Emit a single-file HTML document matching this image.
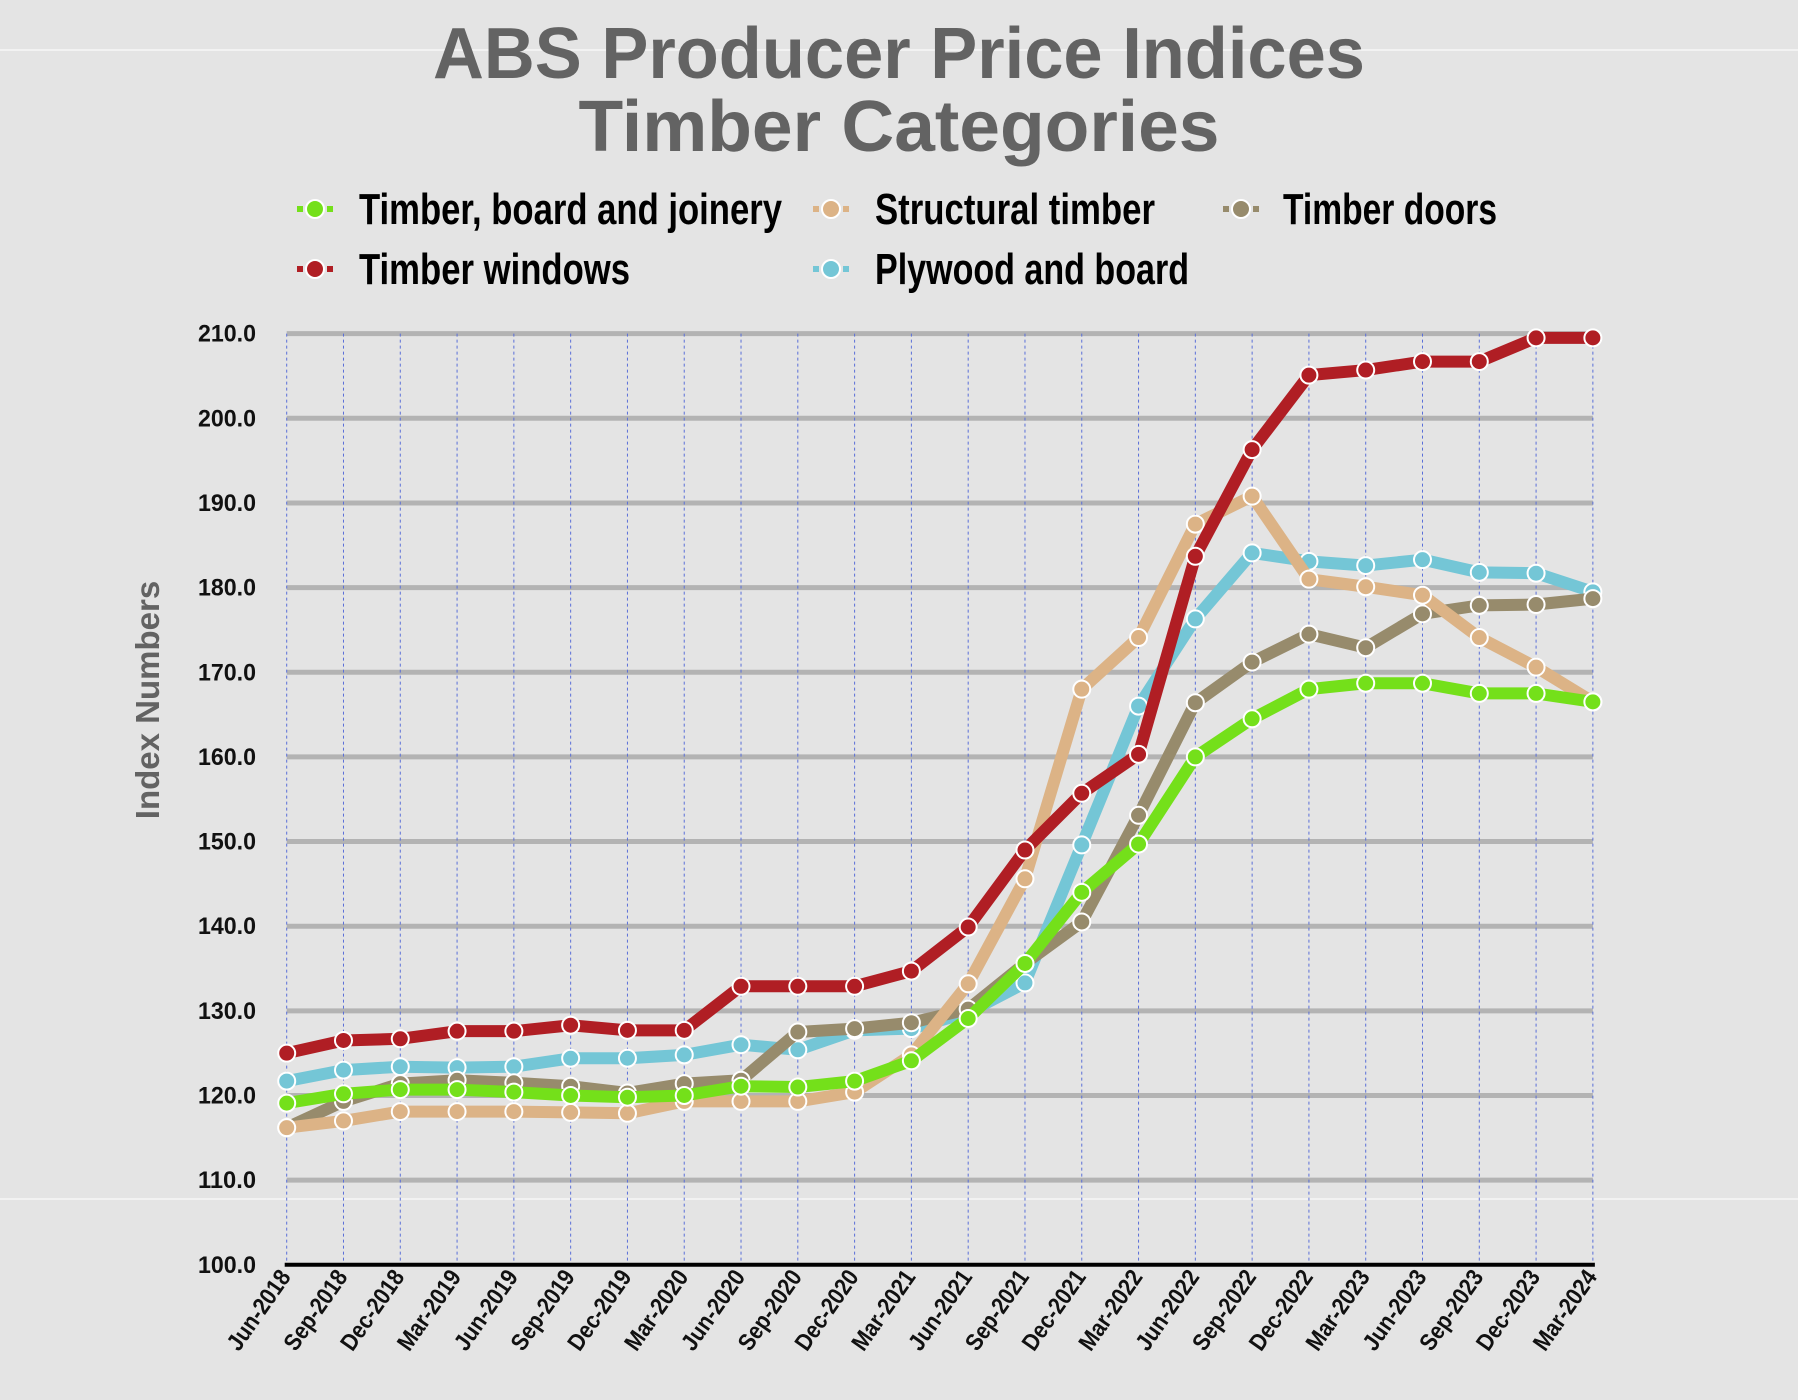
<!DOCTYPE html>
<html><head><meta charset="utf-8"><style>
html,body{margin:0;padding:0;background:#e4e4e4;}
svg{display:block;}
</style></head><body>
<svg id="s" width="1798" height="1400" xmlns="http://www.w3.org/2000/svg" font-family="Liberation Sans, sans-serif">
<rect width="1798" height="1400" fill="#e4e4e4"/>
<line x1="0" y1="50" x2="1798" y2="50" stroke="#f2f2f2" stroke-width="2"/>
<line x1="0" y1="1199" x2="1798" y2="1199" stroke="#f2f2f2" stroke-width="2"/>
<text x="899" y="78" text-anchor="middle" font-size="72" font-weight="bold" fill="#636363" textLength="932" lengthAdjust="spacingAndGlyphs">ABS Producer Price Indices</text>
<text x="899" y="151" text-anchor="middle" font-size="72" font-weight="bold" fill="#636363" textLength="641" lengthAdjust="spacingAndGlyphs">Timber Categories</text>
<g id="g"></g>
</svg>
<script>
var NS="http://www.w3.org/2000/svg",g=document.getElementById('g');
function el(t,a,txt){var e=document.createElementNS(NS,t);for(var k in a)e.setAttribute(k,a[k]);if(txt)e.textContent=txt;g.appendChild(e);return e;}
var x0=286.7,dx=56.79,y100=1264.8,ppu=8.465;
function X(i){return x0+i*dx;} function Y(v){return y100-(v-100)*ppu;}
for(var v=110;v<=210;v+=10){el('line',{x1:x0,x2:X(23),y1:Y(v),y2:Y(v),stroke:'#b3b3b3','stroke-width':5});}
for(var i=0;i<24;i++){el('line',{x1:X(i),x2:X(i),y1:Y(210),y2:Y(100),stroke:'#5a6fd8','stroke-width':1,'stroke-dasharray':'3,3'});}
el('line',{x1:x0-2,x2:X(23)+2,y1:Y(100),y2:Y(100),stroke:'#000','stroke-width':4});
for(var v=100;v<=210;v+=10){el('text',{x:256,y:Y(v)+8,'text-anchor':'end','font-size':24,'font-weight':'bold',fill:'#111',textLength:58,lengthAdjust:'spacingAndGlyphs'},v.toFixed(1));}
var labs=[];var mo=['Jun','Sep','Dec','Mar'];var yr=2018;
for(var i=0;i<24;i++){var m=mo[i%4];if(m=='Mar'&&i>0)yr++;labs.push(m+'-'+yr);}
labs.forEach(function(l,i){var x=X(i)+5,y=1277;el('text',{x:x,y:y,'text-anchor':'end','font-size':24,'font-weight':'bold',fill:'#111',transform:'rotate(-55 '+x+' '+y+')',textLength:92,lengthAdjust:'spacingAndGlyphs'},l);});
el('text',{x:159,y:700,'text-anchor':'middle','font-size':33,'font-weight':'bold',fill:'#636363',transform:'rotate(-90 159 700)'},'Index Numbers');
var S={
ply:['#74c6d6',[121.7,123.0,123.4,123.3,123.4,124.4,124.4,124.8,126.0,125.4,127.7,127.9,129.8,133.3,149.6,166.0,176.3,184.1,183.1,182.6,183.3,181.8,181.7,179.5]],
door:['#978b6c',[116.2,119.3,121.4,121.8,121.5,121.1,120.3,121.4,121.8,127.5,127.9,128.6,130.2,135.6,140.5,153.1,166.4,171.2,174.5,172.9,176.9,177.9,178.0,178.7]],
tan:['#dcb386',[116.2,117.0,118.1,118.1,118.1,118.0,117.9,119.3,119.3,119.3,120.4,124.8,133.2,145.6,168.0,174.1,187.5,190.8,181.0,180.1,179.1,174.1,170.6,166.5]],
red:['#b01e24',[125.0,126.5,126.7,127.6,127.6,128.3,127.7,127.7,132.9,132.9,132.9,134.7,139.9,149.0,155.7,160.3,183.7,196.3,205.1,205.7,206.7,206.7,209.5,209.5]],
grn:['#74e01a',[119.1,120.2,120.7,120.7,120.4,120.0,119.8,120.0,121.1,121.0,121.7,124.1,129.1,135.6,144.0,149.7,160.0,164.5,168.0,168.7,168.7,167.5,167.5,166.5]]};
['ply','door','tan','red','grn'].forEach(function(k){var c=S[k][0],d=S[k][1];
 el('polyline',{points:d.map(function(v,i){return X(i)+','+Y(v);}).join(' '),fill:'none',stroke:c,'stroke-width':12,'stroke-linejoin':'round','stroke-linecap':'round'});
 d.forEach(function(v,i){el('circle',{cx:X(i),cy:Y(v),r:8.5,fill:c,stroke:'#fff','stroke-width':2});});});
var L=[['#74e01a',315,209,359,'Timber, board and joinery',423],['#dcb386',831,209,875,'Structural timber',280],['#978b6c',1241,209,1283,'Timber doors',214],
['#b01e24',315,269,359,'Timber windows',271],['#74c6d6',831,269,875,'Plywood and board',314]];
L.forEach(function(l){el('line',{x1:l[1]-18,x2:l[1]+18,y1:l[2],y2:l[2],stroke:l[0],'stroke-width':6,'stroke-dasharray':'6,4'});
el('circle',{cx:l[1],cy:l[2],r:9,fill:l[0],stroke:'#fff','stroke-width':2});
el('text',{x:l[3],y:l[2]+15,'font-size':44,'font-weight':'bold',fill:'#000',textLength:l[5],lengthAdjust:'spacingAndGlyphs'},l[4]);});
</script>
</body></html>
